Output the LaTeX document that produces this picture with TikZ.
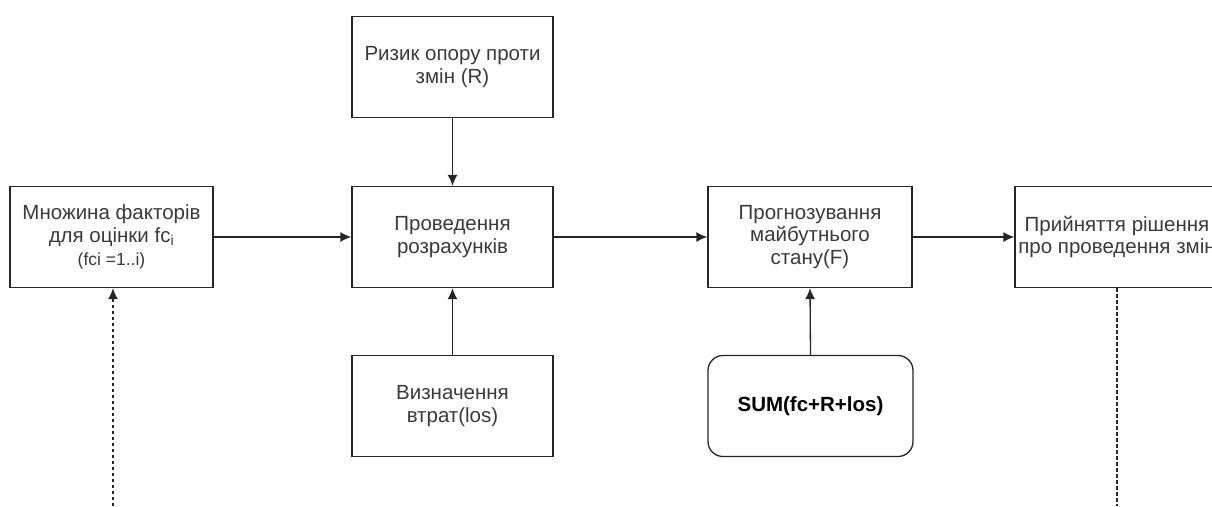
\documentclass[tikz,border=0pt]{standalone}
\usepackage{fontspec}
\setmainfont{Liberation Sans}
\usetikzlibrary{arrows.meta}
\definecolor{txt}{HTML}{3A3A3A}
\tikzset{
  box/.style={draw=black!85, line width=1.3pt, minimum width=201pt, minimum height=101pt,
    inner sep=0pt, align=center, text=txt, font=\fontsize{20.5}{22.8}\selectfont},
  rbox/.style={box, rounded corners=15pt, text=black, font=\fontsize{20.5}{22.8}\selectfont\bfseries},
  conn/.style={line width=1.3pt, draw=black!85, -{Latex[length=11pt,width=10pt]}},
  dconn/.style={line width=1.3pt, draw=black!85, dash pattern=on 3.5pt off 2.5pt}
}
\begin{document}
\begin{tikzpicture}[x=1pt,y=-1pt]
\useasboundingbox (0,0) rectangle (1212,506);
\clip (0,0) rectangle (1212,506);
\fill[white] (0,0) rectangle (1212,506);
\node[box, minimum width=203pt] (mn) at (111.5,237) {Множина факторів\\для оцінки fc\textsubscript{i}\\{\fontsize{17.5}{20}\selectfont (fci =1..i)}};
\node[box] (riz) at (452.5,67) {Ризик опору проти\\змін (R)};
\node[box] (prov) at (452.5,237) {Проведення\\розрахунків};
\node[box] (vyz) at (452.5,406) {Визначення\\втрат(los)};
\node[box, minimum width=204pt] (prog) at (810,237) {Прогнозування\\майбутнього\\стану(F)};
\node[rbox, minimum width=205pt] (sum) at (810.5,406) {SUM(fc+R+los)};
\node[box, minimum width=204pt] (pryi) at (1117,237) {Прийняття рішення\\про проведення змін};
\coordinate (l0) at (113,506);
\coordinate (r0) at (1117,506);
\draw[conn] (mn.east) -- (prov.west);
\draw[conn] (prov.east) -- (prog.west);
\draw[conn] (prog.east) -- (pryi.west);
\draw[conn] (riz.south) -- (prov.north);
\draw[conn] (vyz.north) -- (prov.south);
\draw[conn] (sum.north) -- (prog.south);
\draw[dconn, -{Latex[length=11pt,width=10pt]}] (l0) -- (l0 |- mn.south);
\draw[dconn] (pryi.south) -- (r0);
\end{tikzpicture}
\end{document}
